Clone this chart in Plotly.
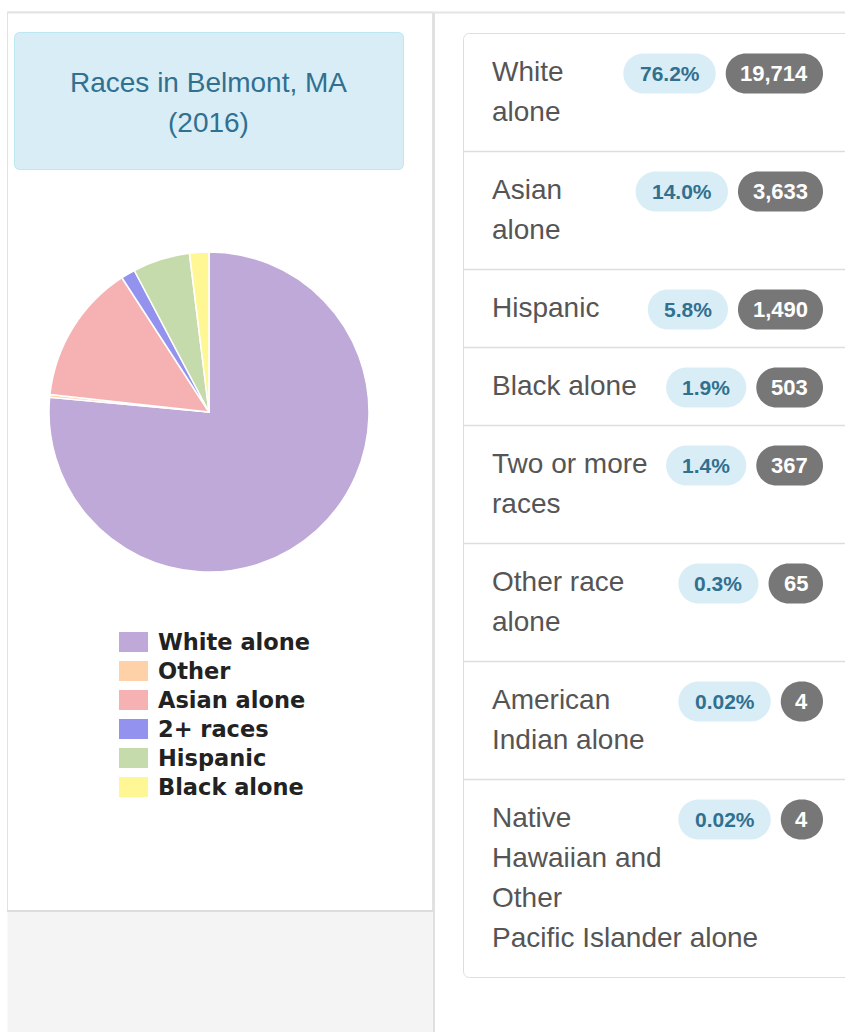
import plotly.graph_objects as go

# ---- data -------------------------------------------------------------
pie_labels = ["White alone", "Other", "Asian alone", "2+ races", "Hispanic", "Black alone"]
pie_values = [19714, 73, 3633, 367, 1490, 503]
pie_colors = ["#bea9d8", "#ffd1a9", "#f6b2b2", "#9393ef", "#c6dbab", "#fff794"]

row_labels = [
    ["White", "alone"],
    ["Asian", "alone"],
    ["Hispanic"],
    ["Black alone"],
    ["Two or more", "races"],
    ["Other race", "alone"],
    ["American", "Indian alone"],
    ["Native", "Hawaiian and", "Other", "Pacific Islander alone"],
]
row_pcts = ["76.2%", "14.0%", "5.8%", "1.9%", "1.4%", "0.3%", "0.02%", "0.02%"]
row_counts = [19714, 3633, 1490, 503, 367, 65, 4, 4]

title_lines = ["Races in Belmont, MA", "(2016)"]

W, H = 845, 1032
SANS = "Liberation Sans, Arial, sans-serif"


def rounded_rect(x0, y0, x1, y1, r):
    k = r * 0.4477
    return (f"M{x0+r},{y0} H{x1-r} C{x1-k},{y0} {x1},{y0+k} {x1},{y0+r} "
            f"V{y1-r} C{x1},{y1-k} {x1-k},{y1} {x1-r},{y1} "
            f"H{x0+r} C{x0+k},{y1} {x0},{y1-k} {x0},{y1-r} "
            f"V{y0+r} C{x0},{y0+k} {x0+k},{y0} {x0+r},{y0} Z")


def text_em(s):
    widths = {"%": 0.889, ",": 0.278, ".": 0.278}
    return sum(widths.get(c, 0.556) for c in s)


shapes = []
annotations = []


def add_shape(**kw):
    kw.setdefault("layer", "below")
    kw.setdefault("xref", "x")
    kw.setdefault("yref", "y")
    shapes.append(kw)


# ---- page background --------------------------------------------------
add_shape(type="rect", x0=7.5, x1=432.5, y0=12, y1=911,
          fillcolor="white", line=dict(color="#e2e2e2", width=1))
add_shape(type="rect", x0=7.5, x1=433, y0=911, y1=H + 2,
          fillcolor="#f4f4f4", line=dict(width=0))
add_shape(type="line", x0=7, x1=433, y0=911, y1=911,
          line=dict(color="#dcdcdc", width=2))
add_shape(type="line", x0=434, x1=434, y0=12, y1=H + 2,
          line=dict(color="#e0e0e0", width=2))
add_shape(type="line", x0=7, x1=W + 2, y0=12.5, y1=12.5,
          line=dict(color="#e4e4e4", width=2))

# title box
add_shape(type="path", path=rounded_rect(14.5, 32.5, 403.5, 169.5, 5),
          fillcolor="#d9edf7", line=dict(color="#bce8f1", width=1))
for i, line in enumerate(title_lines):
    annotations.append(dict(x=208.5, y=82 + 40 * i, text=line, showarrow=False,
                            xanchor="center", yanchor="middle",
                            font=dict(family=SANS, size=28, color="#31708f")))

# ---- legend (left card) -------------------------------------------------
for i, (lab, col) in enumerate(zip(pie_labels, pie_colors)):
    cy = 642 + 29 * i
    add_shape(type="rect", x0=119, x1=148, y0=cy - 10, y1=cy + 10,
              fillcolor=col, line=dict(width=0))
    annotations.append(dict(x=156, y=cy, text=f"<b>{lab}</b>", showarrow=False,
                            xanchor="left", yanchor="middle",
                            font=dict(family="DejaVu Sans, Verdana, sans-serif",
                                      size=22.5, color="#222222")))

# ---- right list panel -------------------------------------------------
panel_top, panel_left = 33.5, 463.5
line_h, pad = 40, 19
badge_h, badge_font, badge_pad = 40, 22, 15
right_edge = 823

tops = []
y = panel_top
for lines in row_labels:
    tops.append(y)
    y += 2 * pad + line_h * len(lines)
panel_bottom = y

add_shape(type="path", path=rounded_rect(panel_left, panel_top, W + 20, panel_bottom, 6),
          fillcolor="white", line=dict(color="#dddddd", width=1))
for t in tops[1:]:
    add_shape(type="line", x0=panel_left, x1=W + 2, y0=t, y1=t,
              line=dict(color="#dddddd", width=1.5))

for t, lines, pct, cnt in zip(tops, row_labels, row_pcts, row_counts):
    for j, txt in enumerate(lines):
        annotations.append(dict(x=490, y=t + 38 + line_h * j, text=txt, showarrow=False,
                                xanchor="left", yanchor="middle",
                                font=dict(family=SANS, size=28, color="#555555")))
    cy = t + 40
    cnt_txt = f"{cnt:,}"
    gw = max(text_em(cnt_txt) * badge_font + 2 * badge_pad, badge_h)
    gx1 = right_edge
    gx0 = gx1 - gw
    add_shape(type="path",
              path=rounded_rect(gx0, cy - badge_h / 2, gx1, cy + badge_h / 2, badge_h / 2),
              fillcolor="#777777", line=dict(width=0))
    annotations.append(dict(x=(gx0 + gx1) / 2, y=cy, text=f"<b>{cnt_txt}</b>", showarrow=False,
                            xanchor="center", yanchor="middle",
                            font=dict(family=SANS, size=badge_font, color="white")))
    bw = text_em(pct) * badge_font + 2 * badge_pad
    bx1 = gx0 - 10
    bx0 = bx1 - bw
    add_shape(type="path",
              path=rounded_rect(bx0, cy - badge_h / 2, bx1, cy + badge_h / 2, badge_h / 2),
              fillcolor="#d9edf7", line=dict(width=0))
    annotations.append(dict(x=(bx0 + bx1) / 2, y=cy, text=f"<b>{pct}</b>", showarrow=False,
                            xanchor="center", yanchor="middle",
                            font=dict(family=SANS, size=21, color="#31708f")))

# ---- pie ----------------------------------------------------------------
pie_x = [49 / W, 369 / W]
pie_y = [1 - 572 / H, 1 - 252 / H]

fig = go.Figure()
# invisible trace so the pixel-like x/y axes exist for the shapes
fig.add_trace(go.Scatter(x=[0, W], y=[0, H], mode="none", hoverinfo="skip", showlegend=False))
fig.add_trace(go.Pie(
    labels=pie_labels,
    values=pie_values,
    marker=dict(colors=pie_colors, line=dict(color="white", width=1.5)),
    sort=False,
    direction="clockwise",
    rotation=0,
    textinfo="none",
    domain=dict(x=pie_x, y=pie_y),
    showlegend=False,
))

fig.update_layout(
    width=W, height=H,
    margin=dict(l=0, r=0, t=0, b=0),
    paper_bgcolor="white",
    plot_bgcolor="rgba(0,0,0,0)",
    xaxis=dict(range=[0, W], visible=False, fixedrange=True),
    yaxis=dict(range=[H, 0], visible=False, fixedrange=True),
    shapes=shapes,
    annotations=annotations,
    showlegend=False,
)

fig.write_html("out.html", config={"displayModeBar": False},
               post_script="document.body.style.margin='0';")
